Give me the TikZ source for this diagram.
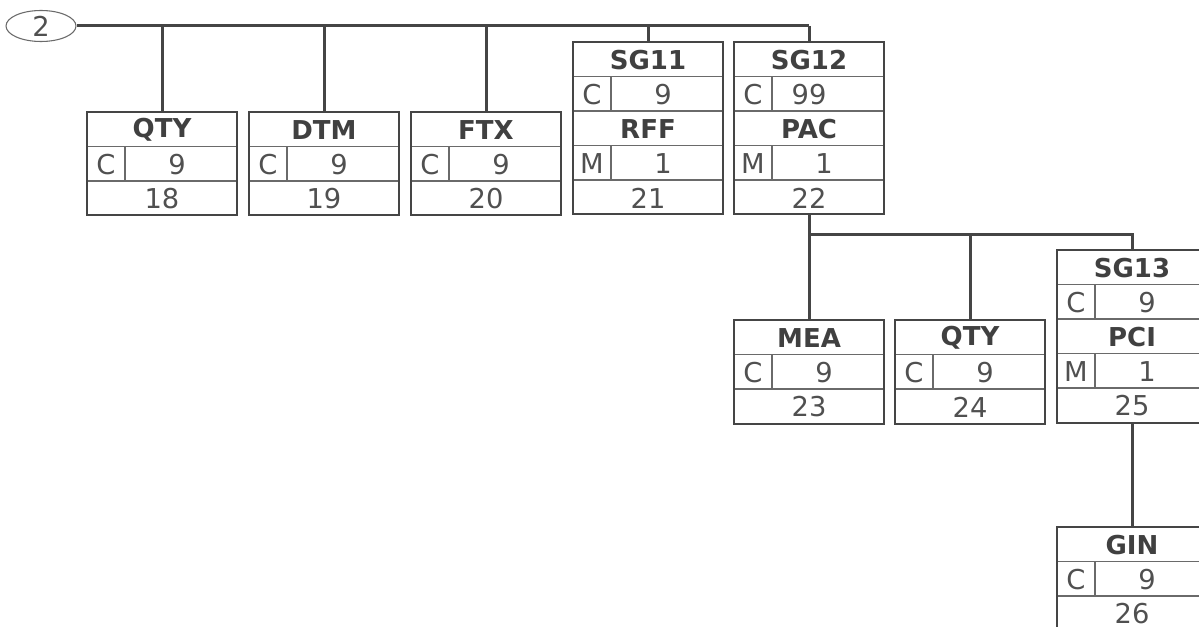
\documentclass[tikz,border=0pt]{standalone}
\usepackage{fontspec}
\setmainfont{DejaVu Sans}
\usetikzlibrary{shapes.geometric}
\definecolor{linec}{HTML}{454545}
\definecolor{innerc}{HTML}{6A6A6A}
\definecolor{txtc}{HTML}{505050}
\definecolor{ttlc}{HTML}{404040}
\tikzset{
  conn/.style={draw=linec, line width=2.25pt},
  box/.style={draw=linec, line width=1.5pt, rectangle, anchor=north, minimum width=112.5pt, inner sep=0pt, outer sep=0pt},
  inner/.style={draw=innerc, line width=1.1pt},
  txt/.style={text=txtc, font=\fontsize{20.5}{22}\selectfont, inner sep=0pt},
  ttl/.style={text=ttlc, font=\fontsize{19.5}{21}\selectfont\bfseries, inner sep=0pt},
  oval/.style={ellipse, draw=innerc, line width=0.8pt, minimum width=52.5pt, minimum height=23.25pt, inner sep=0pt, text=txtc, font=\fontsize{20.5}{22}\selectfont}
}
% #1 cx, #2 top, #3 title, #4 status, #5 rep, #6 rep x offset
\newcommand\hdrrows[6]{%
  \node[ttl] at (#1,#2+18) {#3};
  \draw[inner] (#1-75,#2+34.5) -- (#1+75,#2+34.5);
  \draw[inner] (#1-37,#2+34.5) -- (#1-37,#2+69);
  \draw[inner] (#1-75,#2+69) -- (#1+75,#2+69);
  \node[txt] at (#1-56,#2+52.5) {#4};
  \node[txt] at (#1-75+#6,#2+52.5) {#5};
}
% #1 name, #2 cx, #3 top, #4 title, #5 status, #6 rep, #7 num
\newcommand\segbox[7]{%
  \hdrrows{#2}{#3}{#4}{#5}{#6}{90}
  \node[txt] at (#2,#3+87) {#7};
  \node[box, minimum height=77.625pt] (#1) at (#2,#3) {};
}
% #1 name, #2 cx, #3 top, #4 group, #5 gstatus, #6 grep, #7 grep offset, #8 seg title, #9 seg num
\newcommand\grpbox[9]{%
  \hdrrows{#2}{#3}{#4}{#5}{#6}{#7}
  \hdrrows{#2}{#3+69}{#8}{M}{1}{90}
  \node[txt] at (#2,#3+156) {#9};
  \node[box, minimum height=129.375pt] (#1) at (#2,#3) {};
}
\begin{document}
\begin{tikzpicture}[x=0.75pt,y=-0.75pt]
\useasboundingbox (0,0) rectangle (1199,627);
\clip (0,0) rectangle (1199,627);
% top level
\node[oval] (start) at (41,26) {2};
\segbox{qtya}{162}{112}{QTY}{C}{9}{18}
\segbox{dtm}{324}{112}{DTM}{C}{9}{19}
\segbox{ftx}{486}{112}{FTX}{C}{9}{20}
\grpbox{sgeleven}{648}{42}{SG11}{C}{9}{90}{RFF}{21}
\grpbox{sgtwelve}{809}{42}{SG12}{C}{99}{75}{PAC}{22}
% level under SG12
\segbox{mea}{809}{320}{MEA}{C}{9}{23}
\segbox{qtyb}{970}{320}{QTY}{C}{9}{24}
\grpbox{sgthirteen}{1132}{250}{SG13}{C}{9}{90}{PCI}{25}
\segbox{gin}{1132}{527}{GIN}{C}{9}{26}
% connectors, bus 1
\coordinate (b1) at (162,26);
\coordinate (b2) at (324,26);
\coordinate (b3) at (486,26);
\coordinate (b4) at (648,26);
\coordinate (b5) at (809,26);
\draw[conn] (start.east) -- (b5);
\draw[conn] (b1) -- (qtya.north);
\draw[conn] (b2) -- (dtm.north);
\draw[conn] (b3) -- (ftx.north);
\draw[conn] (b4) -- (sgeleven.north);
\draw[conn] (b5) -- (sgtwelve.north);
% bus 2
\coordinate (c1) at (809,235);
\coordinate (c2) at (970,235);
\coordinate (c3) at (1132,235);
\draw[conn] (sgtwelve.south) -- (c1) -- (c3) -- (sgthirteen.north);
\draw[conn] (c1) -- (mea.north);
\draw[conn] (c2) -- (qtyb.north);
% level 3
\draw[conn] (sgthirteen.south) -- (gin.north);
\end{tikzpicture}
\end{document}
